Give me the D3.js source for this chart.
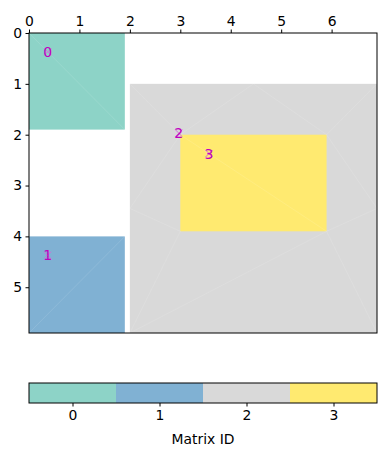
<!DOCTYPE html>
<html>
<head>
<meta charset="utf-8">
<script src="https://cdn.jsdelivr.net/npm/d3@7"></script>
<style>
  body { margin: 0; background: white; }
  text { font-family: "DejaVu Sans", sans-serif; }
</style>
</head>
<body>
<div id="viz_area"></div>
<script>
var width = 388
var height = 456

var margin = { top: 33, right: 10, bottom: 123, left: 29 }

// matrix blocks: [x0, x1, y0, y1] in data units
var ids = [0, 1, 2, 3]
var blocks = [
  [0, 1.9, 0, 1.9],
  [0, 1.9, 4, 5.9],
  [2, 6.9, 1, 5.9],
  [3, 5.9, 2, 3.9]
]
var cmap = ["#8dd3c7", "#80b1d3", "#d9d9d9", "#ffea70"]

// label positions (x, y)
var labelPos = [[0.37, 0.37], [0.37, 4.37], [2.97, 1.97], [3.57, 2.37]]

// faint mesh edges
var meshEdges = [
  [[0, 0], [1.9, 1.9]],
  [[0, 5.9], [1.9, 4]],
  [[2, 1], [3, 2]],
  [[4.45, 1], [3, 2]],
  [[4.45, 1], [5.9, 2]],
  [[6.9, 1], [5.9, 2]],
  [[2, 3.45], [3, 2]],
  [[2, 3.45], [3, 3.9]],
  [[6.9, 3.45], [5.9, 2]],
  [[6.9, 3.45], [5.9, 3.9]],
  [[2, 5.9], [3, 3.9]],
  [[2, 5.9], [5.9, 3.9]],
  [[6.9, 5.9], [5.9, 3.9]],
  [[3, 2], [5.9, 3.9]]
]

var xTicks = [0, 1, 2, 3, 4, 5, 6]
var yTicks = [0, 1, 2, 3, 4, 5]
var cbTicks = [0, 1, 2, 3]

var svg = d3.select("#viz_area")
  .append("svg")
  .attr("width", width)
  .attr("height", height)
  .style("background-color", "white")

var scX = d3.scaleLinear()
  .domain([0, 6.9])
  .range([margin.left, width - margin.right - 1])

var scY = d3.scaleLinear()
  .domain([0, 5.9])
  .range([margin.top, height - margin.bottom])

// blocks
svg.append("g")
  .selectAll("rect")
  .data(blocks)
  .enter()
  .append("rect")
  .attr("x", d => scX(d[0]))
  .attr("y", d => scY(d[2]))
  .attr("width", d => scX(d[1]) - scX(d[0]))
  .attr("height", d => scY(d[3]) - scY(d[2]))
  .attr("fill", (d, i) => cmap[i])

svg.append("g")
  .selectAll("line")
  .data(meshEdges)
  .enter()
  .append("line")
  .attr("x1", d => scX(d[0][0]))
  .attr("y1", d => scY(d[0][1]))
  .attr("x2", d => scX(d[1][0]))
  .attr("y2", d => scY(d[1][1]))
  .attr("stroke", "white")
  .attr("stroke-opacity", 0.22)
  .attr("stroke-width", 0.5)

// labels
var lab = svg.append("g")
lab.selectAll("path")
  .data(labelPos)
  .enter()
  .append("path")
  .attr("d", d => {
    var x = scX(d[0]), y = scY(d[1]), s = 3.5
    return `M${x - s},${y - s}L${x + s},${y + s}M${x - s},${y + s}L${x + s},${y - s}`
  })
  .attr("stroke", "#d070d8")
  .attr("stroke-width", 1)
lab.selectAll("text")
  .data(labelPos)
  .enter()
  .append("text")
  .attr("x", d => scX(d[0]))
  .attr("y", d => scY(d[1]))
  .attr("dy", "0.36em")
  .attr("text-anchor", "middle")
  .attr("fill", "#c000c0")
  .style("font-size", "14px")
  .text((d, i) => ids[i])

// axes
svg.append("g")
  .attr("transform", `translate(0,${margin.top})`)
  .call(d3.axisTop(scX).tickValues(xTicks).tickFormat(d3.format("d")).tickSize(3.5).tickPadding(3.5))
  .call(g => g.select(".domain").remove())
  .style("font-size", "13.9px")
  .call(g => g.selectAll("text").attr("fill", "black"))

svg.append("g")
  .attr("transform", `translate(${margin.left},0)`)
  .call(d3.axisLeft(scY).tickValues(yTicks).tickFormat(d3.format("d")).tickSize(3.5).tickPadding(3.5))
  .call(g => g.select(".domain").remove())
  .style("font-size", "13.9px")
  .call(g => g.selectAll("text").attr("fill", "black"))

svg.append("rect")
  .attr("x", scX(0))
  .attr("y", scY(0))
  .attr("width", scX(6.9) - scX(0))
  .attr("height", scY(5.9) - scY(0))
  .attr("fill", "none")
  .attr("stroke", "black")
  .attr("stroke-width", 1)

// colorbar
var cbTop = 383, cbH = 20
var scC = d3.scaleLinear()
  .domain([-0.5, 3.5])
  .range([scX(0), scX(6.9)])

svg.append("g")
  .selectAll("rect")
  .data(ids)
  .enter()
  .append("rect")
  .attr("x", d => scC(d - 0.5))
  .attr("y", cbTop)
  .attr("width", d => scC(d + 0.5) - scC(d - 0.5))
  .attr("height", cbH)
  .attr("fill", d => cmap[d])

svg.append("rect")
  .attr("x", scC(-0.5))
  .attr("y", cbTop)
  .attr("width", scC(3.5) - scC(-0.5))
  .attr("height", cbH)
  .attr("fill", "none")
  .attr("stroke", "black")
  .attr("stroke-width", 1)

svg.append("g")
  .attr("transform", `translate(0,${cbTop + cbH})`)
  .call(d3.axisBottom(scC).tickValues(cbTicks).tickFormat(d3.format("d")).tickSize(3.5).tickPadding(3.5))
  .call(g => g.select(".domain").remove())
  .style("font-size", "13.9px")
  .call(g => g.selectAll("text").attr("fill", "black"))

svg.append("text")
  .attr("x", (scC(-0.5) + scC(3.5)) / 2)
  .attr("y", 444)
  .attr("text-anchor", "middle")
  .style("font-size", "13.9px")
  .attr("fill", "black")
  .text("Matrix ID")
</script>
</body>
</html>
